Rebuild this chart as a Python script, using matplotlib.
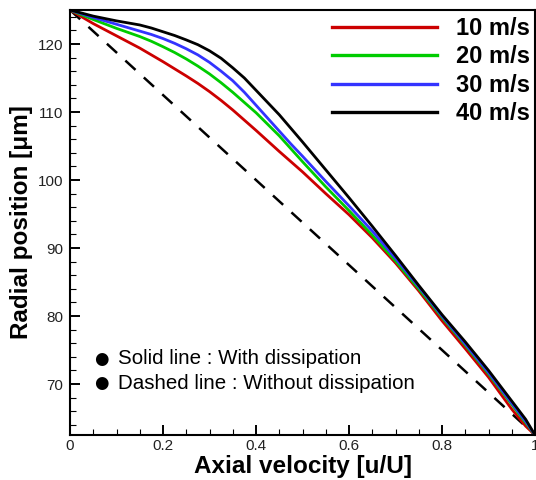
import numpy as np
import matplotlib.pyplot as plt
from matplotlib.ticker import MultipleLocator

# axial velocity samples (u/U)
u = [0.0, 0.05, 0.1, 0.15, 0.175, 0.2, 0.225, 0.25, 0.275, 0.3, 0.325, 0.35, 0.375,
     0.4, 0.425, 0.45, 0.475, 0.5, 0.55, 0.6, 0.65, 0.7, 0.75, 0.8, 0.85, 0.9,
     0.95, 0.98, 1.0]

# radial position [um] with dissipation, per inlet speed
r_10 = [125.0, 123.0, 121.2, 119.4, 118.4, 117.4, 116.35, 115.3, 114.2, 113.0, 111.7, 110.3, 108.8,
        107.3, 105.75, 104.2, 102.7, 101.2, 98.0, 94.9, 91.5, 87.8, 83.7, 79.3, 75.2, 71.0,
        66.3, 63.8, 62.5]
r_20 = [125.0, 123.6, 122.3, 121.1, 120.4, 119.6, 118.75, 117.8, 116.75, 115.6, 114.3, 112.9, 111.4,
        109.9, 108.2, 106.5, 104.6, 102.7, 99.0, 95.5, 91.9, 88.1, 84.0, 79.8, 75.7, 71.5,
        67.0, 64.3, 62.5]
r_30 = [125.0, 123.9, 122.9, 121.9, 121.4, 120.8, 120.1, 119.3, 118.4, 117.3, 116.0, 114.6, 112.9,
        111.0, 109.1, 107.2, 105.3, 103.5, 99.8, 96.2, 92.5, 88.5, 84.3, 80.0, 75.9, 71.7,
        67.2, 64.5, 62.5]
r_40 = [125.0, 124.1, 123.4, 122.8, 122.35, 121.8, 121.25, 120.6, 119.9, 119.0, 117.9, 116.5, 115.0,
        113.2, 111.4, 109.6, 107.6, 105.6, 101.5, 97.4, 93.2, 88.9, 84.5, 80.2, 76.2, 72.0,
        67.5, 64.8, 62.5]

# without dissipation (straight profile)
u_nodiss = [0.0, 1.0]
r_nodiss = [125.0, 62.5]

labels = ['10 m/s', '20 m/s', '30 m/s', '40 m/s']
colors = ['#cc0000', '#00cc00', '#3333ff', '#000000']

plt.rcParams['font.family'] = ['Liberation Sans', 'DejaVu Sans']

fig = plt.figure(figsize=(5.36, 4.8), dpi=100)
ax = fig.add_axes([70 / 536, 45 / 480, 465 / 536, 425 / 480])

ax.plot(u_nodiss, r_nodiss, color='k', lw=1.8, linestyle=(0, (5.5, 4.5)))
for r, c, lab in zip([r_10, r_20, r_30, r_40], colors, labels):
    ax.plot(u, r, color=c, lw=2.0, label=lab, solid_joinstyle='round')

ax.set_xlim(0, 1)
ax.set_ylim(62.5, 125)
ax.xaxis.set_minor_locator(MultipleLocator(0.05))
ax.yaxis.set_major_locator(MultipleLocator(10))
ax.yaxis.set_minor_locator(MultipleLocator(2))
ax.set_xticks([0, 0.2, 0.4, 0.6, 0.8, 1.0])
ax.set_xticklabels(['0', '0.2', '0.4', '0.6', '0.8', '1'])

ax.tick_params(which='major', direction='in', length=7, width=1.4,
               labelsize=11, labelcolor='#222222')
ax.tick_params(which='minor', direction='in', length=4, width=0.8)
ax.tick_params(axis='x', pad=3)
ax.tick_params(axis='y', pad=5)
for s in ax.spines.values():
    s.set_linewidth(1.5)

ax.set_xlabel('Axial velocity [u/U]', fontsize=17.5, fontweight='bold', labelpad=1)
ax.set_ylabel('Radial position [\u03bcm]', fontsize=17.5, fontweight='bold', labelpad=3)

leg = ax.legend(loc='upper right', bbox_to_anchor=(1.0086, 1.0047), frameon=False,
                borderaxespad=0, borderpad=0.38,
                handlelength=4.45, handletextpad=0.8, labelspacing=0.23,
                prop={'size': 17, 'weight': 'bold'})
for line in leg.get_lines():
    line.set_linewidth(2.4)

ax.text(0.0665, 0.179, '\u25cf', transform=ax.transAxes, fontsize=12,
        family='DejaVu Sans', ha='center', va='center')
ax.text(0.0665, 0.122, '\u25cf', transform=ax.transAxes, fontsize=12,
        family='DejaVu Sans', ha='center', va='center')
ax.text(0.103, 0.179, 'Solid line : With dissipation', transform=ax.transAxes,
        fontsize=14.8, va='center')
ax.text(0.103, 0.122, 'Dashed line : Without dissipation', transform=ax.transAxes,
        fontsize=14.8, va='center')

fig.savefig('out.png', dpi=100)
